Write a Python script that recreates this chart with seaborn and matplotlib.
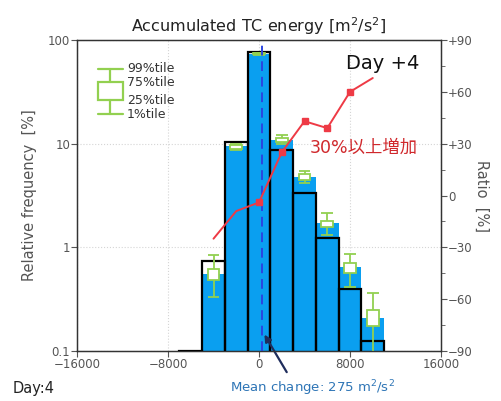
import seaborn as sns
import matplotlib.pyplot as plt
from matplotlib.patches import Rectangle
from matplotlib.ticker import FixedLocator, FuncFormatter

# bin centres of the change in accumulated TC energy [m2/s2]
centers = [-6000, -4000, -2000, 0, 2000, 4000, 6000, 8000, 10000]
edges = [-7000, -5000, -3000, -1000, 1000, 3000, 5000, 7000, 9000, 11000]

# relative frequency [%]: present (black outline) and future (blue filled)
freq_present = [0.1, 0.74, 10.3, 76.0, 8.7, 3.36, 1.22, 0.40, 0.125]
freq_future = [0.0, 0.55, 9.5, 74.0, 10.8, 4.8, 1.70, 0.64, 0.21]

# percentiles of the future frequency (1, 25, 75, 99 %tile)
box_x = [-4000, -2000, 0, 2000, 4000, 6000, 8000, 10000]
p01 = [0.334, 8.6, 72.0, 9.9, 4.2, 1.31, 0.417, 0.05]
p25 = [0.484, 8.9, 73.0, 10.4, 4.5, 1.58, 0.569, 0.175]
p75 = [0.622, 9.7, 74.5, 11.4, 5.1, 1.81, 0.70, 0.248]
p99 = [0.843, 9.9, 75.5, 12.1, 5.4, 2.13, 0.861, 0.365]

# ratio [%] line (right axis); markers where the change is significant
ratio_x = [-4000, -2000, 0, 2000, 4000, 6000, 8000, 10000]
ratio = [-25, -9, -4, 25, 43, 39, 60, 68]
ratio_mark_x = [0, 2000, 4000, 6000, 8000]
ratio_mark = [-4, 25, 43, 39, 60]

mean_change = 275

sns.set_style("ticks")
plt.rcParams["font.family"] = ["DejaVu Sans", "Noto Sans CJK JP"]

fig = plt.figure(figsize=(5.02, 4.01), dpi=100)
ax = fig.add_axes([0.1534, 0.1247, 0.7251, 0.7755])

blue = "#0a9ff0"
green = "#92d050"
gray = "#555555"

sns.histplot(x=centers, weights=freq_future, bins=edges, color=blue, alpha=1,
             edgecolor="none", linewidth=0, ax=ax, zorder=2)
sns.histplot(x=centers, weights=freq_present, bins=edges, fill=False,
             color="black", linewidth=1.6, ax=ax, zorder=3)

ax.set_yscale("log")
ax.set_ylim(0.1, 100)
ax.set_xlim(-16000, 16000)
ax.set_xticks([-16000, -8000, 0, 8000, 16000])
ax.set_yticks([0.1, 1, 10, 100])
ax.set_yticklabels(["0.1", "1", "10", "100"])
ax.minorticks_off()
ax.grid(True, which="major", linestyle=":", color="#d5d5d5", linewidth=0.8)
ax.set_axisbelow(True)

# percentile boxes
bw = 1050
for x, a, b, c, d in zip(box_x, p01, p25, p75, p99):
    ax.vlines(x, a, b, color=green, lw=1.3, zorder=5)
    ax.vlines(x, c, d, color=green, lw=1.3, zorder=5)
    ax.hlines([a, d], x - bw / 2, x + bw / 2, color=green, lw=1.3, zorder=5)
    ax.add_patch(Rectangle((x - bw / 2, b), bw, c - b, facecolor="white",
                           edgecolor=green, lw=1.3, zorder=5))

# legend glyph for the percentiles
lx0, lx1, lxc = 0.058, 0.126, 0.092
ly = [0.907, 0.865, 0.807, 0.762]
ax.plot([lx0, lx1], [ly[0], ly[0]], color=green, lw=1.6, transform=ax.transAxes)
ax.plot([lx0, lx1], [ly[3], ly[3]], color=green, lw=1.6, transform=ax.transAxes)
ax.plot([lxc, lxc], [ly[0], ly[1]], color=green, lw=1.6, transform=ax.transAxes)
ax.plot([lxc, lxc], [ly[2], ly[3]], color=green, lw=1.6, transform=ax.transAxes)
ax.add_patch(Rectangle((lx0, ly[2]), lx1 - lx0, ly[1] - ly[2], facecolor="none",
                       edgecolor=green, lw=1.6, transform=ax.transAxes))
for yy, lab in zip(ly, ["99%tile", "75%tile", "25%tile", "1%tile"]):
    ax.text(0.137, yy, lab, transform=ax.transAxes, fontsize=9,
            color="#333333", va="center", ha="left")

# mean change line
ax.axvline(mean_change, color="#2a45e0", linestyle=(0, (5, 3)), lw=1.4, zorder=6)
ax.annotate("", xy=(352, 0.152), xycoords="data",
            xytext=(0.574, 0.066), textcoords="figure fraction",
            arrowprops=dict(arrowstyle="-|>", color="#1f2d5c", lw=1.6),
            annotation_clip=False, zorder=7)

ax.set_xlabel("")
ax.set_ylabel("Relative frequency  [%]", fontsize=10.5, color=gray, labelpad=8)
ax.set_title("Accumulated TC energy [m$^2$/s$^2$]", fontsize=11.5,
             color="#222222", pad=6)
ax.tick_params(axis="both", direction="out", length=4, colors=gray,
               labelsize=8.5, labelcolor=gray, pad=1)
for s in ax.spines.values():
    s.set_color("#333333")
    s.set_linewidth(1.0)

# ratio axis
ax2 = ax.twinx()
sns.lineplot(x=ratio_x, y=ratio, color="#ee3a45", lw=1.4, ax=ax2, zorder=8)
ax2.plot(ratio_mark_x, ratio_mark, "s", color="#ee3a45", ms=5, zorder=9)
ax2.set_ylim(-90, 90)
ax2.yaxis.set_major_locator(FixedLocator([-90, -60, -30, 0, 30, 60, 90]))
ax2.yaxis.set_minor_locator(FixedLocator([-75, -45, -15, 15, 45, 75]))
ax2.yaxis.set_major_formatter(FuncFormatter(
    lambda v, p: "0" if v == 0 else ("+%d" % v if v > 0 else "\u2212%d" % -v)))
ax2.tick_params(axis="y", which="both", direction="out", colors=gray,
                labelsize=8.5, labelcolor=gray, pad=1)
ax2.tick_params(axis="y", which="major", length=4)
ax2.tick_params(axis="y", which="minor", length=3)
ax2.set_ylabel("Ratio  [%]", rotation=270, fontsize=10.5, color=gray, labelpad=12)
for s in ax2.spines.values():
    s.set_color("#333333")

ax2.text(0.74, 0.955, "Day +4", transform=ax2.transAxes, fontsize=14,
         color="#111111", va="top", ha="left")
ax2.text(0.64, 0.655, "30%以上増加", transform=ax2.transAxes, fontsize=12.5,
         color="#d0282c", va="center", ha="left",
         family=["DejaVu Sans", "Noto Sans CJK JP"])

fig.text(0.458, 0.032, "Mean change: 275 m$^2$/s$^2$", fontsize=9.5,
         color="#2e75b6", ha="left", va="center")
fig.text(0.026, 0.030, "Day:4", fontsize=10.5, color="#222222",
         ha="left", va="center")

plt.savefig("out.png", dpi=100)
